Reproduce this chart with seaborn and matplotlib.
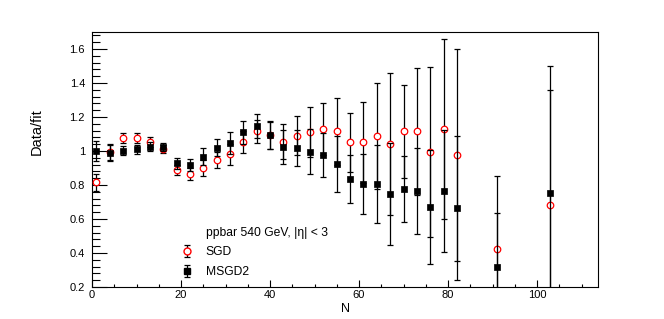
import numpy as np
import matplotlib
matplotlib.use("Agg")
import matplotlib.pyplot as plt
import seaborn as sns
from matplotlib.lines import Line2D
from matplotlib.legend_handler import HandlerTuple

# multiplicity N and data/fit ratios
n_vals = [1, 4, 7, 10, 13, 16, 19, 22, 25, 28, 31, 34, 37, 40, 43, 46, 49, 52,
          55, 58, 61, 64, 67, 70, 73, 76, 79, 82, 91, 103]

sgd = [0.816, 0.995, 1.075, 1.075, 1.052, 1.011, 0.888, 0.865, 0.902, 0.947,
       0.981, 1.055, 1.115, 1.095, 1.055, 1.090, 1.111, 1.130, 1.115, 1.050,
       1.050, 1.089, 1.040, 1.115, 1.115, 0.993, 1.130, 0.977, 0.424, 0.680]
sgd_err = [0.050, 0.049, 0.028, 0.028, 0.028, 0.024, 0.032, 0.033, 0.047, 0.048,
           0.061, 0.065, 0.069, 0.082, 0.102, 0.113, 0.147, 0.152, 0.196, 0.173,
           0.236, 0.311, 0.419, 0.275, 0.373, 0.499, 0.531, 0.623, 0.429, 0.680]

msgd2 = [1.000, 0.990, 1.002, 1.010, 1.026, 1.024, 0.928, 0.920, 0.967, 1.020,
         1.046, 1.111, 1.146, 1.093, 1.022, 1.017, 0.997, 0.977, 0.924, 0.835,
         0.806, 0.806, 0.747, 0.776, 0.765, 0.672, 0.763, 0.664, 0.318, 0.751]
msgd2_err = [0.060, 0.048, 0.026, 0.026, 0.028, 0.024, 0.033, 0.035, 0.050, 0.052,
             0.065, 0.068, 0.072, 0.080, 0.100, 0.105, 0.134, 0.128, 0.167, 0.139,
             0.179, 0.228, 0.300, 0.193, 0.254, 0.334, 0.360, 0.424, 0.320, 0.747]

header = "ppbar 540 GeV, |\u03b7| < 3"

sns.set_theme(style="ticks")
plt.rcParams['font.family'] = ['Liberation Sans', 'DejaVu Sans']
plt.rcParams['axes.linewidth'] = 0.8

fig = plt.figure(figsize=(6.64, 3.19), dpi=100)
ax = fig.add_axes([0.1386, 0.1003, 0.762, 0.7994])

bar_kw = dict(fmt='none', ecolor='black', elinewidth=0.9, capsize=2.2, capthick=0.9)

# SGD first, MSGD2 drawn on top
eb_sgd = ax.errorbar(n_vals, sgd, yerr=sgd_err, zorder=2, **bar_kw)
sns.scatterplot(x=n_vals, y=sgd, marker='o', s=22, color='red', facecolor='white',
                edgecolor='red', linewidth=0.9, ax=ax, zorder=3)
eb_msgd = ax.errorbar(n_vals, msgd2, yerr=msgd2_err, zorder=4, **bar_kw)
sns.scatterplot(x=n_vals, y=msgd2, marker='s', s=20, color='black',
                edgecolor='black', linewidth=0.5, ax=ax, zorder=5)

ax.set_xlim(0, 113.7)
ax.set_ylim(0.2, 1.7)

ax.set_xticks(np.arange(0, 101, 20))
ax.set_xticks(np.arange(0, 114, 5), minor=True)
ax.set_yticks(np.arange(0.2, 1.61, 0.2))
ax.set_yticks(np.arange(0.2, 1.7, 0.04), minor=True)
ax.set_yticklabels(['0.2', '0.4', '0.6', '0.8', '1', '1.2', '1.4', '1.6'])

ax.tick_params(axis='both', which='both', direction='in', color='black',
               width=0.8, labelsize=8, labelcolor='black')
ax.tick_params(axis='y', which='major', length=11, pad=5)
ax.tick_params(axis='y', which='minor', length=5.5)
ax.tick_params(axis='x', which='major', length=5, pad=2)
ax.tick_params(axis='x', which='minor', length=2.5)

for sp in ax.spines.values():
    sp.set_color('black')
    sp.set_linewidth(0.8)

ax.set_xlabel('N', fontsize=9, color='black', labelpad=2)
ax.set_ylabel('Data/fit', fontsize=10.5, color='black')
ax.yaxis.set_label_coords(-0.095, 0.61)

# legend: header row plus the two series
sgd_mark = Line2D([], [], marker='o', linestyle='none', markersize=5,
                  markerfacecolor='white', markeredgecolor='red', markeredgewidth=1.0)
msgd_mark = Line2D([], [], marker='s', linestyle='none', markersize=4.5,
                   markerfacecolor='black', markeredgecolor='black')
blank = Line2D([], [], linestyle='none')
leg = ax.legend([blank, (eb_sgd, sgd_mark), (eb_msgd, msgd_mark)],
                [header, 'SGD', 'MSGD2'],
                handler_map={tuple: HandlerTuple(ndivide=1)},
                loc='upper left', bbox_to_anchor=(0.176, 0.237),
                frameon=False, fontsize=8.7, handlelength=1.0,
                handletextpad=1.05, labelspacing=0.64, borderpad=0,
                borderaxespad=0)
for t in leg.get_texts():
    t.set_color('black')

fig.savefig('out.png', dpi=100)
